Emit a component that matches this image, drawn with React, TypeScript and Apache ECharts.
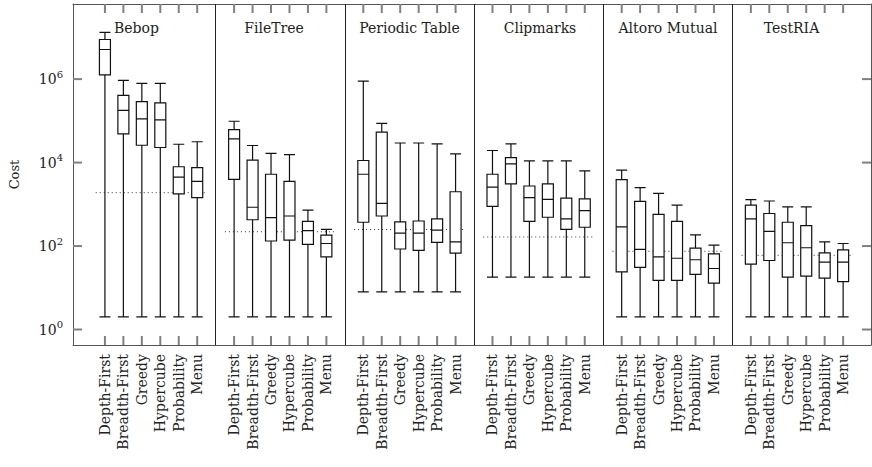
import React, { useEffect, useRef } from "react";
import * as echarts from "echarts";

const panels = ["Bebop", "FileTree", "Periodic Table", "Clipmarks", "Altoro Mutual", "TestRIA"];
const methods = ["Depth-First", "Breadth-First", "Greedy", "Hypercube", "Probability", "Menu"];

// each row: [min, Q1, median, Q3, max]
const bebop = [
  [2, 1.26e6, 5.13e6, 8.9e6, 1.32e7],
  [2, 4.9e4, 1.78e5, 4.07e5, 9.3e5],
  [2, 2.6e4, 1.12e5, 2.9e5, 7.9e5],
  [2, 2.3e4, 1.05e5, 2.7e5, 7.9e5],
  [2, 1780, 4470, 7940, 27500],
  [2, 1450, 3550, 7590, 31600],
];
const fileTree = [
  [2, 3980, 37150, 61660, 97700],
  [2, 427, 851, 11480, 25700],
  [2, 132, 479, 5250, 16600],
  [2, 138, 525, 3550, 15500],
  [2, 110, 234, 389, 724],
  [2, 55, 115, 182, 251],
];
const periodicTable = [
  [8, 372, 5250, 11220, 891000],
  [8, 525, 1050, 53700, 87100],
  [8, 85, 204, 380, 29500],
  [8, 79, 204, 398, 29500],
  [8, 123, 240, 447, 28200],
  [8, 68, 126, 2000, 16200],
];
const clipmarks = [
  [18, 891, 2570, 5250, 19500],
  [18, 3090, 9330, 13200, 28200],
  [18, 389, 1450, 2750, 11000],
  [18, 490, 1320, 3090, 11000],
  [18, 251, 447, 1410, 11000],
  [18, 282, 708, 1350, 6310],
];
const altoroMutual = [
  [2, 24, 288, 3890, 6610],
  [2, 31, 83, 1175, 2510],
  [2, 15, 55, 575, 1820],
  [2, 15, 51, 389, 955],
  [2, 21, 47, 89, 186],
  [2, 13, 29, 65, 105],
];
const testRIA = [
  [2, 37, 447, 955, 1290],
  [2, 45, 224, 603, 1200],
  [2, 18, 120, 372, 871],
  [2, 19, 91, 309, 871],
  [2, 17, 41, 69, 126],
  [2, 14, 41, 81, 115],
];
const panelData = [bebop, fileTree, periodicTable, clipmarks, altoroMutual, testRIA];
const baselines = [1900, 220, 250, 165, 75, 60];
const yTickExponents = [0, 2, 4, 6];

// layout
const STRIDE = 7;
const X_MIN = -1.73;
const X_MAX = 41.51;
const Y_MIN = -0.371;
const Y_MAX = 7.8;
const TITLE_X = [136.5, 274, 409.5, 540, 668, 791.5];
const TITLE_Y = 28;
const TICK_LEN = 9;
const TICK_STYLE = { stroke: "#808080", lineWidth: 2 };
const FONT = "DejaVu Serif";

const log10 = (v: number) => Math.log10(v);

export default function App() {
  const ref = useRef<HTMLDivElement>(null);
  useEffect(() => {
    if (!ref.current) return;
    const chart = echarts.init(ref.current, undefined, { renderer: "svg" });

    const positions: number[] = [];
    const boxData: number[][] = [];
    panelData.forEach((rows, p) => {
      rows.forEach((row, i) => {
        const x = p * STRIDE + i;
        positions.push(x);
        boxData.push([x, ...row.map(log10)]);
      });
    });
    const separators = panels.slice(1).map((_, p) => (p + 1) * STRIDE - 1);

    const baselineSeries = baselines.map((b, p) => ({
      type: "line",
      xAxisIndex: 0,
      yAxisIndex: 0,
      symbol: "none",
      silent: true,
      lineStyle: { color: "#333", width: 1, type: [1, 3] },
      data: [
        [p * STRIDE - 0.5, log10(b)],
        [p * STRIDE + 5.5, log10(b)],
      ],
      z: 1,
    }));

    const axisLineStyle = { color: "#555", width: 1 };

    const xTickSeries = {
      type: "custom",
      coordinateSystem: "cartesian2d",
      xAxisIndex: 0,
      yAxisIndex: 0,
      silent: true,
      clip: false,
      data: positions.map((x) => [x, 1]),
      renderItem: (_params: any, api: any) => {
        const x = api.value(0);
        const b = api.coord([x, Y_MIN]);
        const t = api.coord([x, Y_MAX]);
        const px = b[0];
        return {
          type: "group",
          children: [
            { type: "line", shape: { x1: px, y1: b[1], x2: px, y2: b[1] - TICK_LEN }, style: { ...TICK_STYLE } },
            { type: "line", shape: { x1: px, y1: t[1], x2: px, y2: t[1] + TICK_LEN }, style: { ...TICK_STYLE } },
          ],
        };
      },
      z: 5,
    };
    const yTickSeries = {
      type: "custom",
      coordinateSystem: "cartesian2d",
      xAxisIndex: 0,
      yAxisIndex: 0,
      silent: true,
      clip: false,
      data: yTickExponents.map((e) => [0, e]),
      renderItem: (_params: any, api: any) => {
        const e = api.value(1);
        const l = api.coord([X_MIN, e]);
        const r = api.coord([X_MAX, e]);
        const py = l[1];
        return {
          type: "group",
          children: [
            { type: "line", shape: { x1: l[0], y1: py, x2: l[0] + TICK_LEN, y2: py }, style: { ...TICK_STYLE } },
            { type: "line", shape: { x1: r[0], y1: py, x2: r[0] - TICK_LEN, y2: py }, style: { ...TICK_STYLE } },
          ],
        };
      },
      z: 5,
    };

    const option: any = {
      animation: false,
      grid: { left: 71, right: 1, top: 4, bottom: 122, containLabel: false },
      xAxis: [
        {
          type: "value",
          min: X_MIN,
          max: X_MAX,
          position: "bottom",
          axisLine: { show: true, onZero: false, lineStyle: axisLineStyle },
          axisTick: { show: false },
          axisLabel: {
            show: true,
            customValues: positions,
            rotate: 90,
            margin: 9,
            fontFamily: FONT,
            fontSize: 14,
            color: "#222",
            formatter: (v: number) => methods[Math.round(v) % STRIDE] ?? "",
          },
          splitLine: { show: false },
        },
        {
          type: "value",
          min: X_MIN,
          max: X_MAX,
          position: "top",
          axisLine: { show: true, onZero: false, lineStyle: axisLineStyle },
          axisTick: { show: false },
          axisLabel: { show: false },
          splitLine: { show: false },
        },
      ],
      yAxis: [
        {
          type: "value",
          min: Y_MIN,
          max: Y_MAX,
          position: "left",
          name: "Cost",
          nameLocation: "middle",
          nameGap: 52,
          nameTextStyle: { fontFamily: FONT, fontSize: 13, color: "#222" },
          axisLine: { show: true, onZero: false, lineStyle: axisLineStyle },
          axisTick: { show: false },
          axisLabel: {
            show: true,
            customValues: yTickExponents,
            margin: 10,
            color: "#222",
            formatter: (v: number) => "{b|10}{s|" + Math.round(v) + "}",
            rich: {
              b: { fontFamily: FONT, fontSize: 14, lineHeight: 20, color: "#222" },
              s: { fontFamily: FONT, fontSize: 10, lineHeight: 9, verticalAlign: "top", color: "#222" },
            },
          },
          splitLine: { show: false },
        },
        {
          type: "value",
          min: Y_MIN,
          max: Y_MAX,
          position: "right",
          axisLine: { show: true, onZero: false, lineStyle: axisLineStyle },
          axisTick: { show: false },
          axisLabel: { show: false },
          splitLine: { show: false },
        },
      ],
      series: [
        {
          type: "boxplot",
          xAxisIndex: 0,
          yAxisIndex: 0,
          boxWidth: [11, 11],
          itemStyle: { color: "#fff", borderColor: "#111", borderWidth: 1.2 },
          data: boxData,
          z: 3,
        },
        {
          type: "line",
          xAxisIndex: 0,
          yAxisIndex: 0,
          data: [],
          silent: true,
          markLine: {
            silent: true,
            symbol: "none",
            label: { show: false },
            lineStyle: { color: "#222", width: 1, type: "solid" },
            data: separators.map((x) => ({ xAxis: x })),
          },
        },
        xTickSeries,
        yTickSeries,
        ...baselineSeries,
      ],
      graphic: panels.map((name, p) => ({
        type: "text",
        x: TITLE_X[p],
        y: TITLE_Y,
        style: {
          text: name,
          fontFamily: FONT,
          fontSize: 14,
          fill: "#222",
          textAlign: "center",
          textVerticalAlign: "middle",
        },
        z: 10,
      })),
    };
    chart.setOption(option);
    return () => chart.dispose();
  }, []);
  return (
    <div
      ref={ref}
      style={{ position: "absolute", left: 0, top: 0, width: 872, height: 467, background: "#fff" }}
    />
  );
}
